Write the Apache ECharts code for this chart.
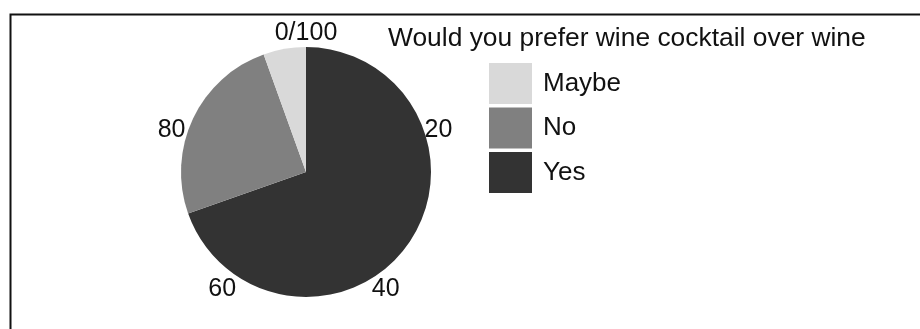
<!DOCTYPE html>
<html>
<head>
<meta charset="utf-8">
<script src="https://cdn.jsdelivr.net/npm/echarts@6/dist/echarts.min.js"></script>
<style>
html,body{margin:0;padding:0;background:#fff;}
#c{width:920px;height:329px;}
</style>
</head>
<body>
<div id="c"></div>
<script>
// Data (percent of responses)
const categories = ['Maybe', 'No', 'Yes'];
const values = [5.5, 24.9, 69.6];
const colors = ['#d9d9d9', '#808080', '#333333'];
const angleTicks = [0, 20, 40, 60, 80, 100];
const legendTitle = 'Would you prefer wine cocktail over wine';

const FONT = '"Liberation Sans", Arial, sans-serif';
const chart = echarts.init(document.getElementById('c'), null, {renderer: 'canvas'});

// stacking order: Yes first from 0 (top), then No, then Maybe
const stackOrder = ['Yes', 'No', 'Maybe'];
const series = stackOrder.map(name => {
  const i = categories.indexOf(name);
  return {
    type: 'bar',
    name: name,
    coordinateSystem: 'polar',
    stack: 'total',
    data: [values[i]],
    itemStyle: {color: colors[i]},
    barCategoryGap: '0%',
    barWidth: '100%',
    silent: true,
    animation: false
  };
});

const lab = {fontFamily: FONT, fontSize: 25, color: '#111'};
const rich = {
  t0: Object.assign({}, lab, {lineHeight: 53}),
  t20: Object.assign({}, lab, {lineHeight: 26, padding: [0, 0, 14, 12]}),
  t40: Object.assign({}, lab, {lineHeight: 52}),
  t60: Object.assign({}, lab, {lineHeight: 52, padding: [0, 4, 0, 0]}),
  t80: Object.assign({}, lab, {lineHeight: 26, padding: [0, 14, 14, 0]})
};

chart.setOption({
  animation: false,
  backgroundColor: '#fff',
  title: {
    text: legendTitle,
    left: 388,
    top: 26,
    padding: 0,
    textStyle: {fontFamily: FONT, fontSize: 26.4, fontWeight: 'normal', color: '#111'}
  },
  legend: {
    data: categories,
    orient: 'vertical',
    left: 489,
    top: 63,
    padding: 0,
    icon: 'rect',
    itemWidth: 43,
    itemHeight: 41,
    itemGap: 3.5,
    selectedMode: false,
    textStyle: {fontFamily: FONT, fontSize: 26, color: '#111', padding: [0, 0, 0, 6]}
  },
  polar: {center: [306, 172], radius: 125},
  angleAxis: {
    type: 'value',
    min: angleTicks[0],
    max: angleTicks[angleTicks.length - 1],
    interval: 20,
    startAngle: 90,
    clockwise: true,
    axisLine: {show: false},
    axisTick: {show: false},
    splitLine: {show: false},
    axisLabel: {
      margin: -13,
      fontFamily: FONT,
      fontSize: 25,
      color: '#111',
      rich: rich,
      formatter: v => {
        if (v === 100) return '';
        const txt = v === 0 ? '0/100' : String(v);
        return '{t' + v + '|' + txt + '}';
      }
    }
  },
  radiusAxis: {
    type: 'category',
    data: [''],
    show: false,
    axisLine: {show: false},
    axisTick: {show: false},
    axisLabel: {show: false},
    splitLine: {show: false}
  },
  series: series,
  graphic: [{
    type: 'rect',
    silent: true,
    shape: {x: 10.5, y: 14.5, width: 1000, height: 400},
    style: {fill: null, stroke: '#111', lineWidth: 2}
  }]
});
</script>
</body>
</html>
